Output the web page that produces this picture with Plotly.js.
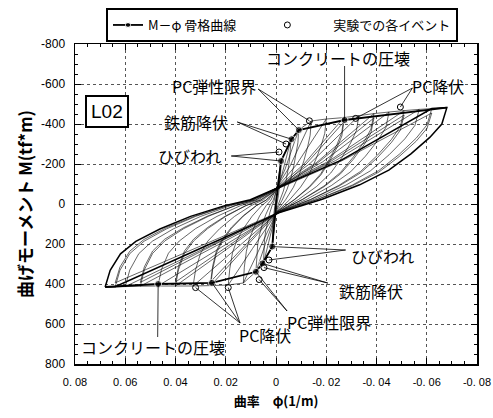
<!DOCTYPE html>
<html><head><meta charset="utf-8">
<script src="https://cdn.plot.ly/plotly-3.0.1.min.js"></script>
<style>html,body{margin:0;padding:0;background:#fff}#chart{width:493px;height:418px}</style>
</head><body><div id="chart"></div>
<script>
// ---- hysteresis loops (curvature phi [1/m], moment M [tf*m]) ----
const loop1 = [[0.0015,213],[0.00146,170],[0.00137,128],[0.00123,96],[0.00102,64],[0.00075,32],[0.00045,4],[0.00023,-11],
  [-0.0009,-99],[-0.002,-215],
  [-0.00194,-178],[-0.0018,-148],[-0.00158,-112],[-0.00132,-75],[-0.00098,-43],[-0.00054,-11],[-0.00004,19],
  [0.0007,110],[0.0015,213]];
const loop2 = [[0.005,297],[0.00485,238],[0.00455,178],[0.0041,134],[0.0034,89],[0.0025,45],[0.0015,6],[0.00075,-15],
  [-0.0006,-101],[-0.002,-215],[-0.006,-324],
  [-0.00582,-269],[-0.0054,-224],[-0.00474,-168],[-0.00396,-113],[-0.00294,-65],[-0.00162,-16],[-0.00012,29],
  [0.0007,121],[0.0015,213],[0.005,297]];
const loop3 = [[0.008,339],[0.00776,271],[0.00728,203],[0.00656,153],[0.00544,102],[0.004,51],[0.0024,7],[0.0012,-17],
  [-0.0024,-149],[-0.006,-324],[-0.009,-370],
  [-0.00873,-307],[-0.0081,-255],[-0.00711,-192],[-0.00594,-130],[-0.00441,-74],[-0.00243,-19],[-0.00018,33],
  [0.0024,165],[0.005,297],[0.008,339]];
const loop4 = [[0.013,395],[0.0126,316],[0.0118,237],[0.0107,178],[0.0088,119],[0.0065,59],[0.0039,8],[0.002,-20],
  [-0.0035,-170],[-0.009,-370],[-0.014,-415],
  [-0.0136,-344],[-0.0126,-286],[-0.0111,-216],[-0.0092,-145],[-0.0069,-83],[-0.0038,-21],[-0.0003,37],
  [0.0039,188],[0.008,339],[0.013,395]];
const loop5 = [[0.019,405],[0.0184,324],[0.0173,243],[0.0156,182],[0.0129,122],[0.0095,61],[0.0057,8],[0.0029,-20],
  [-0.0056,-190],[-0.014,-415],[-0.02,-425],
  [-0.0194,-353],[-0.018,-293],[-0.0158,-221],[-0.0132,-149],[-0.0098,-85],[-0.0054,-21],[-0.0004,38],
  [0.0063,217],[0.013,395],[0.019,405]];
const loop6 = [[0.026,408],[0.0252,326],[0.0237,245],[0.0213,184],[0.0177,122],[0.013,61],[0.0078,8],[0.0039,-20],
  [-0.008,-194],[-0.02,-425],[-0.027,-432],
  [-0.0262,-359],[-0.0243,-298],[-0.0213,-225],[-0.0178,-151],[-0.0132,-86],[-0.0073,-22],[-0.0005,39],
  [0.0093,222],[0.019,405],[0.026,408]];
const loop6b = [[0.026,388],[0.0252,310],[0.0237,233],[0.0213,175],[0.0177,116],[0.013,58],[0.0078,8],[0.0039,-19],
  [-0.0116,-195],[-0.027,-410],
  [-0.0262,-340],[-0.0243,-283],[-0.0213,-213],[-0.0178,-144],[-0.0132,-82],[-0.0073,-21],[-0.0005,37],
  [0.0128,212],[0.026,388]];
const loop7 = [[0.033,410],[0.032,328],[0.030,246],[0.0271,185],[0.0224,123],[0.0165,62],[0.0099,8],[0.005,-21],
  [-0.011,-198],[-0.027,-432],[-0.033,-442],
  [-0.032,-367],[-0.0297,-305],[-0.0261,-230],[-0.0218,-155],[-0.0162,-88],[-0.0089,-22],[-0.0007,40],
  [0.0127,224],[0.026,408],[0.033,410]];
const loop8 = [[0.040,410],[0.0388,328],[0.0364,246],[0.0328,185],[0.0272,123],[0.020,62],[0.012,8],[0.006,-21],
  [-0.0135,-202],[-0.033,-442],[-0.039,-452],
  [-0.0378,-375],[-0.0351,-312],[-0.0308,-235],[-0.0257,-158],[-0.0191,-90],[-0.0105,-23],[-0.0008,41],
  [0.0161,226],[0.033,410],[0.040,410]];
const loop8b = [[0.040,390],[0.0388,312],[0.0364,234],[0.0328,176],[0.0272,117],[0.020,59],[0.012,8],[0.006,-20],
  [-0.0165,-205],[-0.039,-430],
  [-0.0378,-357],[-0.0351,-297],[-0.0308,-224],[-0.0257,-151],[-0.0191,-86],[-0.0105,-22],[-0.0008,39],
  [0.0196,214],[0.040,390]];
const loop9 = [[0.047,410],[0.0456,328],[0.0428,246],[0.0385,185],[0.032,123],[0.0235,62],[0.0141,8],[0.007,-21],
  [-0.016,-206],[-0.039,-452],[-0.045,-460],
  [-0.0437,-382],[-0.0405,-317],[-0.0356,-239],[-0.0297,-161],[-0.022,-92],[-0.0122,-23],[-0.0009,41],
  [0.0196,226],[0.040,410],[0.047,410]];
const loop10 = [[0.054,411],[0.0524,329],[0.0491,247],[0.0443,185],[0.0367,123],[0.027,62],[0.0162,8],[0.0081,-21],
  [-0.0185,-210],[-0.045,-460],[-0.051,-467],
  [-0.0495,-388],[-0.0459,-322],[-0.0403,-243],[-0.0337,-163],[-0.025,-93],[-0.0138,-23],[-0.001,42],
  [0.023,226],[0.047,410],[0.054,411]];
const loop10b = [[0.054,392],[0.0524,314],[0.0491,235],[0.0443,176],[0.0367,118],[0.027,59],[0.0162,8],[0.0081,-20],
  [-0.0215,-211],[-0.051,-445],
  [-0.0495,-369],[-0.0459,-307],[-0.0403,-231],[-0.0337,-156],[-0.025,-89],[-0.0138,-22],[-0.001,40],
  [0.0265,216],[0.054,392]];
const loop11 = [[0.060,413],[0.0582,330],[0.0546,248],[0.0492,186],[0.0408,124],[0.030,62],[0.018,8],[0.009,-21],
  [-0.021,-214],[-0.051,-467],[-0.057,-473],
  [-0.0553,-393],[-0.0513,-326],[-0.045,-246],[-0.0376,-166],[-0.0279,-95],[-0.0154,-24],[-0.0011,43],
  [0.0265,227],[0.054,411],[0.060,413]];
const loop12 = [[0.064,414],[0.0621,331],[0.0582,248],[0.0525,186],[0.0435,124],[0.032,62],[0.0192,8],[0.0096,-21],
  [-0.0237,-217],[-0.057,-473],[-0.062,-477],
  [-0.0601,-396],[-0.0558,-329],[-0.049,-248],[-0.0409,-167],[-0.0304,-95],[-0.0167,-24],[-0.0012,43],
  [0.0294,228],[0.060,413],[0.064,414]];
const loop12b = [[0.064,394],[0.0621,315],[0.0582,236],[0.0525,177],[0.0435,118],[0.032,59],[0.0192,8],[0.0096,-20],
  [-0.0262,-216],[-0.062,-455],
  [-0.0601,-378],[-0.0558,-314],[-0.049,-237],[-0.0409,-159],[-0.0304,-91],[-0.0167,-23],[-0.0012,41],
  [0.0314,218],[0.064,394]];
const loop13 = [[0.068,415],[0.066,332],[0.0619,249],[0.0558,187],[0.0462,125],[0.034,62],[0.0204,8],[0.0102,-21],
  [-0.026,-219],[-0.062,-477],[-0.068,-482],
  [-0.066,-400],[-0.0612,-333],[-0.0537,-251],[-0.0449,-169],[-0.0333,-96],[-0.0184,-24],[-0.0014,43],
  [0.0313,229],[0.064,414],[0.068,415]];
const loops = [loop1,loop2,loop3,loop4,loop5,loop6,loop6b,loop7,loop8,loop8b,loop9,loop10,loop10b,loop11,loop12,loop12b];
const lastLoop = loop13;   // final, largest cycle (drawn heavier in the original)

// ---- skeleton curve (M-phi) ----
const skelPhi = [0.068, 0.0469, 0.0255, 0.008, 0.0054, 0.0015, 0, -0.002, -0.0062, -0.0091, -0.0273, -0.068];
const skelM   = [415, 400, 394, 339, 297, 213, 0, -215, -324, -370, -420, -482];
const skelDot = [0, 7, 7, 7, 7, 7, 0, 7, 7, 7, 7, 0];

// ---- experimental events ----
const evPhi = [-0.0012, -0.004, -0.0133, -0.0317, -0.0495, 0.0028, 0.0048, 0.0067, 0.019, 0.032];
const evM   = [-260, -300, -416, -428, -485, 280, 318, 378, 418, 418];

// ---- labels ----
const labText = ["コンクリートの圧壊","PC降伏","PC弾性限界","鉄筋降伏","ひびわれ","ひびわれ","鉄筋降伏","PC弾性限界","PC降伏","コンクリートの圧壊"];
const labPhi  = [-0.0246, -0.0646, 0.0246, 0.0317, 0.0345, -0.0424, -0.038, -0.021, 0.0044, 0.0491];
const labM    = [-730, -590, -590, -410, -240, 260, 435, 590, 655, 715];
// leader line start points and what they point to (s = skeleton index, e = event index)
const leadFromPhi = [-0.0273, -0.0543, 0.0071, 0.0154, 0.0178, -0.0277, -0.0206, -0.0044, 0.0143, 0.0471];
const leadFromM   = [-690, -580, -575, -410, -240, 230, 395, 535, 595, 665];
const leadTo = [[["s",10]], [["e",4],["e",3]], [["e",2],["s",9]], [["s",8],["e",1]], [["e",0],["s",7]],
                [["s",5],["e",5]], [["s",4],["e",6]], [["s",3],["e",7]], [["s",2],["e",8],["e",9]], [["s",1]]];

// ---- axis ticks ----
const xTickVals = [0.08,0.06,0.04,0.02,0,-0.02,-0.04,-0.06,-0.08];
const xTickText = ["0. 08","0. 06","0. 04","0. 02","0","-0. 02","-0. 04","-0. 06","-0. 08"];
const yTickVals = [-800,-600,-400,-200,0,200,400,600,800];
const yTickText = ["-800","-600","-400","-200","0","200","400","600","800"];

const JP = '"Noto Sans CJK JP", "Noto Sans", sans-serif';
const NUM = '"Liberation Sans", Arial, sans-serif';

const traces = loops.map(l => ({
  type:'scatter', mode:'lines', x:l.map(p=>p[0]), y:l.map(p=>p[1]),
  line:{color:'#000', width:0.6}, showlegend:false, hoverinfo:'skip'
}));
traces.push({type:'scatter', mode:'lines', x:lastLoop.map(p=>p[0]), y:lastLoop.map(p=>p[1]),
  line:{color:'#000', width:1.5}, showlegend:false, hoverinfo:'skip'});
traces.push({type:'scatter', mode:'lines+markers', name:'M－φ 骨格曲線　　', x:skelPhi, y:skelM,
  line:{color:'#000', width:1.8}, marker:{color:'#000', size:skelDot}});
traces.push({type:'scatter', mode:'markers', name:'　　実験での各イベント', x:evPhi, y:evM,
  marker:{symbol:'circle-open', color:'#000', size:6, line:{width:1, color:'#000'}}});

const shapes = [];
leadTo.forEach((targets, i) => {
  targets.forEach(t => {
    const tx = t[0]==='s' ? skelPhi[t[1]] : evPhi[t[1]];
    const ty = t[0]==='s' ? skelM[t[1]] : evM[t[1]];
    shapes.push({type:'line', xref:'x', yref:'y', x0:leadFromPhi[i], y0:leadFromM[i], x1:tx, y1:ty,
      line:{color:'#000', width:0.8}});
  });
});

const annotations = labText.map((t,i) => ({
  x:labPhi[i], y:labM[i], xref:'x', yref:'y', xanchor:'center', yanchor:'middle', text:t, showarrow:false,
  font:{family:JP, size:16, color:'#000'}
}));
annotations.push({x:0.079, y:0.79, xref:'paper', yref:'paper', xanchor:'center', yanchor:'middle', text:'L02', showarrow:false,
  font:{family:NUM, size:19, color:'#000'}, bordercolor:'#000', borderwidth:2, borderpad:4, bgcolor:'#fff'});

const layout = {
  width:493, height:418,
  margin:{l:75, r:16, t:44, b:54, pad:0, autoexpand:false},
  paper_bgcolor:'#fff', plot_bgcolor:'#fff',
  font:{family:NUM, size:12, color:'#000'},
  showlegend:true,
  legend:{orientation:'h', xref:'container', yref:'container', x:106/493, xanchor:'left', y:1-8/418, yanchor:'top',
    bordercolor:'#000', borderwidth:2, bgcolor:'#fff',
    font:{family:JP, size:13, color:'#000'}},
  xaxis:{range:[0.08,-0.08], tickvals:xTickVals, ticktext:xTickText, automargin:false, ticklabeloverflow:'allow',
    ticks:'inside', ticklen:6, tickwidth:1, tickcolor:'#000',
    minor:{ticks:'inside', ticklen:3, dtick:0.005, tickcolor:'#000', showgrid:false},
    showline:true, linecolor:'#000', linewidth:1.5, mirror:'allticks',
    showgrid:true, gridcolor:'#555', griddash:'dot', gridwidth:1, zeroline:false,
    tickfont:{family:NUM, size:11}, ticklabelstandoff:7,
    title:{text:'曲率　φ(1/m)', font:{family:JP, size:13, weight:'bold'}, standoff:10}},
  yaxis:{range:[800,-800], tickvals:yTickVals, ticktext:yTickText, automargin:false, ticklabeloverflow:'allow',
    ticks:'inside', ticklen:6, tickwidth:1, tickcolor:'#000',
    minor:{ticks:'inside', ticklen:3, dtick:50, tickcolor:'#000', showgrid:false},
    showline:true, linecolor:'#000', linewidth:1.5, mirror:'allticks',
    showgrid:true, gridcolor:'#555', griddash:'dot', gridwidth:1, zeroline:false,
    tickfont:{family:NUM, size:12}, ticklabelstandoff:6,
    title:{text:'曲げモーメント M(tf*m)', font:{family:JP, size:17, weight:'bold'}, standoff:4}},
  shapes:shapes, annotations:annotations
};
Plotly.newPlot('chart', traces, layout, {staticPlot:true, displayModeBar:false});
</script></body></html>
